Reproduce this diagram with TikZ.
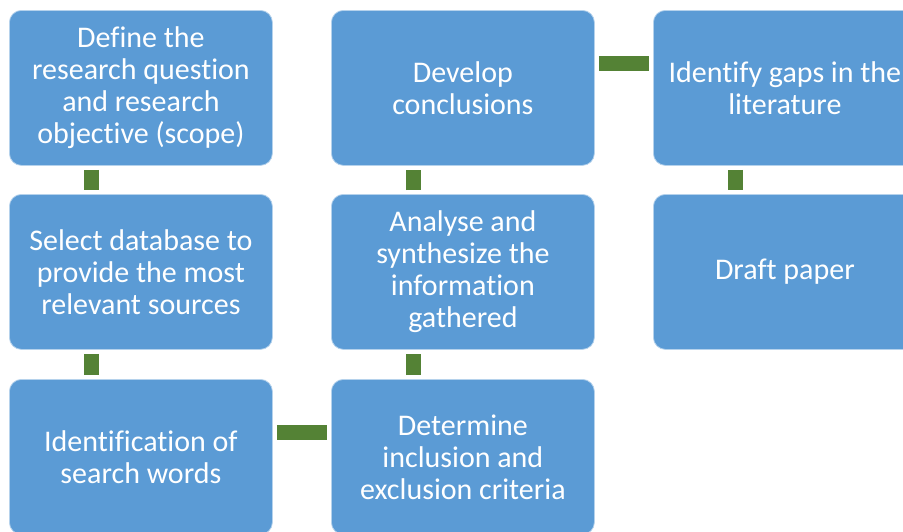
\documentclass[tikz,border=0pt]{standalone}
\usepackage{fontspec}
\setmainfont{Carlito}[Ligatures={NoCommon}]
\usepackage{tikz}

\definecolor{stepblue}{HTML}{5B9BD5}
\definecolor{linkgreen}{HTML}{548235}

\begin{document}
\begin{tikzpicture}[x=1pt,y=-1pt,
    every node/.style={font=\fontsize{30}{32}\selectfont},
    stepbox/.style={rectangle,rounded corners=12pt,fill=stepblue,
      draw=stepblue!45!white,line width=0.8pt,text=white,align=center,
      minimum width=263pt,minimum height=155pt,inner sep=0pt,anchor=north west},
    link/.style={draw=linkgreen,line width=15pt,line cap=butt}]

    \useasboundingbox (0,0) rectangle (903,531);
    \clip (0,0) rectangle (903,531);

    % Column 1
    \node[stepbox] (scope) at (9,10)
      {Define the\\research question\\and research\\objective (scope)};
    \node[stepbox] (dbase) at (9,194)
      {Select database to\\provide the most\\relevant sources};
    \node[stepbox] (words) at (9,379)
      {Identification of\\search words};

    % Column 2
    \node[stepbox] (crit) at (331,379)
      {Determine\\inclusion and\\exclusion criteria};
    \node[stepbox] (synth) at (331,194)
      {Analyse and\\synthesize the\\information\\gathered};
    \node[stepbox] (concl) at (331,10)
      {Develop\\conclusions};

    % Column 3
    \node[stepbox] (gaps) at (653,10)
      {Identify gaps in the\\literature};
    \node[stepbox] (draft) at (653,194)
      {Draft paper};

    % Vertical links
    \draw[link] ([xshift=82pt,yshift=-4pt]scope.south west)
      -- ([xshift=82pt,yshift=4pt]dbase.north west);
    \draw[link] ([xshift=82pt,yshift=-4pt]dbase.south west)
      -- ([xshift=82pt,yshift=4pt]words.north west);
    \draw[link] ([xshift=82pt,yshift=4pt]crit.north west)
      -- ([xshift=82pt,yshift=-4pt]synth.south west);
    \draw[link] ([xshift=82pt,yshift=4pt]synth.north west)
      -- ([xshift=82pt,yshift=-4pt]concl.south west);
    \draw[link] ([xshift=82pt,yshift=-4pt]gaps.south west)
      -- ([xshift=82pt,yshift=4pt]draft.north west);

    % Horizontal links
    \draw[link] ([xshift=4pt,yshift=-53pt]words.north east)
      -- ([xshift=-4pt,yshift=-53pt]crit.north west);
    \draw[link] ([xshift=4pt,yshift=-53pt]concl.north east)
      -- ([xshift=-4pt,yshift=-53pt]gaps.north west);

\end{tikzpicture}
\end{document}
